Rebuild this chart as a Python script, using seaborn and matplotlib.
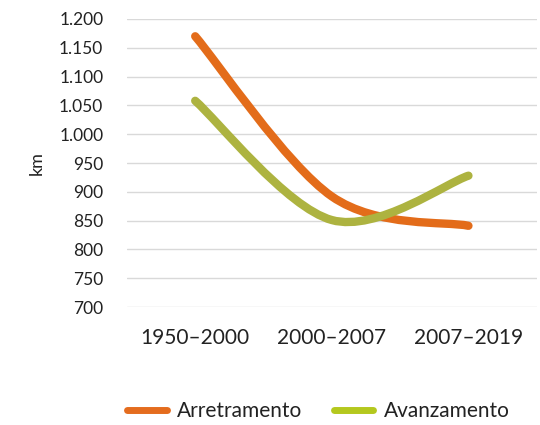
import numpy as np
import matplotlib
matplotlib.use("Agg")
import matplotlib.pyplot as plt
from matplotlib.path import Path
from matplotlib.patches import PathPatch
from matplotlib.lines import Line2D
from matplotlib.ticker import FuncFormatter
import seaborn as sns

# data
periods = ["1950–2000", "2000–2007", "2007–2019"]
arretramento = [1170, 892, 841]
avanzamento = [1058, 851, 928]
series_names = ["Arretramento", "Avanzamento"]

line_colors = ["#E36C1A", "#ADB340"]
legend_colors = ["#E46C1E", "#B4C81E"]

sns.set_theme(style="white")
plt.rcParams["font.family"] = ["Lato", "DejaVu Sans"]


def smooth_path(xs, ys):
    """Excel-like smoothed line: cubic Bezier through each point (Catmull-Rom tangents)."""
    n = len(xs)
    pts = np.column_stack([xs, ys]).astype(float)
    tang = np.zeros_like(pts)
    for i in range(n):
        a = pts[max(i - 1, 0)]
        b = pts[min(i + 1, n - 1)]
        tang[i] = (b - a) / 2
    verts = [pts[0]]
    codes = [Path.MOVETO]
    for i in range(n - 1):
        verts += [pts[i] + tang[i] / 3, pts[i + 1] - tang[i + 1] / 3, pts[i + 1]]
        codes += [Path.CURVE4] * 3
    return Path(verts, codes)


fig = plt.figure(figsize=(5.4, 4.25), dpi=100)
ax = fig.add_axes([0.235, 0.2776, 0.759, 0.6777])

x = np.arange(len(periods))
for vals, col in zip([arretramento, avanzamento], line_colors):
    patch = PathPatch(smooth_path(x, vals), facecolor="none", edgecolor=col,
                      lw=6, capstyle="round", joinstyle="round", zorder=3)
    ax.add_patch(patch)

ax.set_xlim(-0.5, len(periods) - 0.5)
ax.set_ylim(700, 1200)
ax.set_yticks(np.arange(700, 1201, 50))
ax.yaxis.set_major_formatter(FuncFormatter(lambda v, p: f"{int(v):,}".replace(",", ".")))
ax.set_xticks(x)
ax.set_xticklabels(periods)
ax.grid(axis="y", color="#D9D9D9", lw=1)
ax.grid(axis="x", visible=False)
sns.despine(ax=ax, left=True, bottom=True)
ax.tick_params(axis="y", length=0, pad=17, labelsize=12.5, labelcolor="#222222")
ax.tick_params(axis="x", length=0, pad=15, labelsize=15, labelcolor="#222222")
ax.set_ylabel("km", fontsize=13, color="#222222", labelpad=10)

handles = [Line2D([], [], color=c, lw=5) for c in legend_colors]
fig.legend(handles, series_names, loc="center", bbox_to_anchor=(0.59, 0.033),
           ncol=2, frameon=False, fontsize=15, handlelength=1.9,
           columnspacing=1.5, handletextpad=0.5, labelcolor="#222222")

fig.savefig("out.png", dpi=100)
